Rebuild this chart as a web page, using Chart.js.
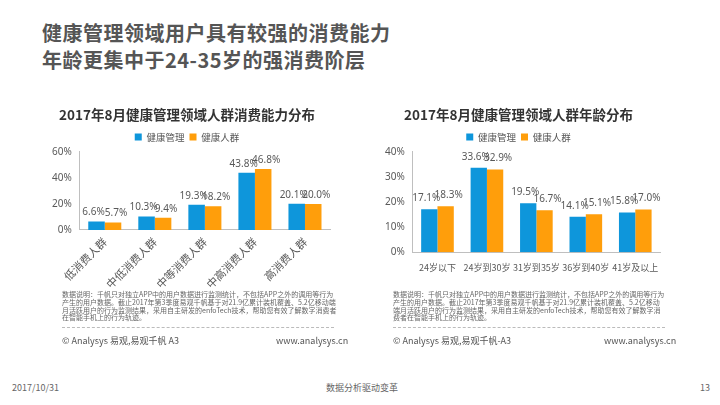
<!DOCTYPE html>
<html><head><meta charset="utf-8">
<script src="https://cdn.jsdelivr.net/npm/chart.js@4"></script>
<style>
html,body{margin:0;padding:0;background:#fff;}
body{width:720px;height:405px;position:relative;overflow:hidden;font-family:"Noto Sans CJK SC","Noto Sans",sans-serif;}
.abs{position:absolute;white-space:nowrap;}
.h1{left:42px;font-size:20px;font-weight:bold;color:#555;letter-spacing:0.5px;}
.note{font-size:7px;line-height:7.8px;color:#666;white-space:normal;}
.foot{font-size:9px;color:#555;}
.dash{position:absolute;height:0;border-top:1px dashed #bbb;}
</style></head><body>
<div class="abs h1" style="top:18px;">健康管理领域用户具有较强的消费能力</div>
<div class="abs h1" style="top:45px;">年龄更集中于24-35岁的强消费阶层</div>

<div class="abs" style="left:32px;top:101px;width:320px;height:195px;"><canvas id="c1"></canvas></div>
<div class="abs" style="left:372px;top:101px;width:310px;height:182px;"><canvas id="c2"></canvas></div>

<div class="abs note" style="left:62px;top:291px;width:277px;">数据说明：千帆只对独立APP中的用户数据进行监测统计，不包括APP之外的调用等行为产生的用户数据。截止2017年第3季度易观千帆基于对21.9亿累计装机覆盖、5.2亿移动端月活跃用户的行为监测结果，采用自主研发的enfoTech技术，帮助您有效了解数字消费者在智能手机上的行为轨迹。</div>
<div class="dash" style="left:62px;top:327px;width:272px;"></div>
<div class="abs foot" style="left:62px;top:334px;">© Analysys 易观,易观千帆 A3</div>
<div class="abs foot" style="left:276px;top:334px;">www.analysys.cn</div>

<div class="abs note" style="left:393px;top:291px;width:272px;">数据说明：千帆只对独立APP中的用户数据进行监测统计，不包括APP之外的调用等行为产生的用户数据。截止2017年第3季度易观千帆基于对21.9亿累计装机覆盖、5.2亿移动端月活跃用户的行为监测结果，采用自主研发的enfoTech技术，帮助您有效了解数字消费者在智能手机上的行为轨迹。</div>
<div class="dash" style="left:393px;top:327px;width:272px;"></div>
<div class="abs foot" style="left:393px;top:334px;">© Analysys 易观,易观千帆-A3</div>
<div class="abs foot" style="left:604px;top:334px;">www.analysys.cn</div>

<div class="abs" style="left:12px;top:381px;font-size:9px;color:#666;">2017/10/31</div>
<div class="abs" style="left:326px;top:381px;font-size:9px;color:#666;">数据分析驱动变革</div>
<div class="abs" style="left:700px;top:381px;font-size:9px;color:#666;">13</div>

<script>
const seriesNames = ["健康管理", "健康人群"];
const consumeCategories = ["低消费人群", "中低消费人群", "中等消费人群", "中高消费人群", "高消费人群"];
const consumeMgmt = [6.6, 10.3, 19.3, 43.8, 20.1];
const consumeHealthy = [5.7, 9.4, 18.2, 46.8, 20.0];
const ageCategories = ["24岁以下", "24岁到30岁", "31岁到35岁", "36岁到40岁", "41岁及以上"];
const ageMgmt = [17.1, 33.6, 19.5, 14.1, 15.8];
const ageHealthy = [18.3, 32.9, 16.7, 15.1, 17.0];
const colors = ["#0E96DB", "#FF9E0B"];

function labelPlugin(offset) {
  return {
    id: 'vlabels',
    afterDatasetsDraw(chart) {
      const ctx = chart.ctx;
      ctx.save();
      ctx.font = '10px "Noto Sans", sans-serif';
      ctx.fillStyle = '#595959';
      ctx.textAlign = 'center';
      ctx.textBaseline = 'bottom';
      chart.data.datasets.forEach((ds, i) => {
        const dx = i === 0 ? -3 : 3;
        chart.getDatasetMeta(i).data.forEach((el, j) => {
          ctx.fillText(ds.data[j].toFixed(1) + '%', el.x + dx, el.y - offset);
        });
      });
      ctx.restore();
    }
  };
}

function makeChart(id, title, cats, a, b, max, step, rotate, pad, xFont, xPad, offset) {
  return new Chart(document.getElementById(id), {
    type: 'bar',
    data: {
      labels: cats,
      datasets: [
        {label: seriesNames[0], data: a, backgroundColor: colors[0]},
        {label: seriesNames[1], data: b, backgroundColor: colors[1]}
      ]
    },
    options: {
      responsive: true, maintainAspectRatio: false, animation: false,
      devicePixelRatio: 1,
      layout: {padding: pad},
      datasets: {bar: {barPercentage: 1, categoryPercentage: 0.66}},
      plugins: {
        title: {display: true, text: title, color: '#333', font: {size: 13.5, weight: 'bold', family: '"Noto Sans CJK SC", sans-serif'}, padding: {top: 6, bottom: 4}},
        legend: {display: true, labels: {boxWidth: 7, boxHeight: 7, color: '#555', font: {size: 9.5, family: '"Noto Sans CJK SC", sans-serif'}, padding: 5}},
        tooltip: {enabled: false}
      },
      scales: {
        x: {
          grid: {display: false, drawTicks: false},
          border: {color: '#bfbfbf'},
          ticks: {color: '#595959', font: {size: xFont, family: '"Noto Sans CJK SC", sans-serif'}, maxRotation: rotate, minRotation: rotate, padding: xPad, autoSkip: false}
        },
        y: {
          min: 0, max: max,
          grid: {display: false, drawTicks: false},
          border: {color: '#bfbfbf'},
          ticks: {stepSize: step, color: '#595959', font: {size: 10, family: '"Noto Sans", sans-serif'}, padding: 8, callback: v => v + '%'}
        }
      }
    },
    plugins: [labelPlugin(offset)]
  });
}
makeChart('c1', '2017年8月健康管理领域人群消费能力分布', consumeCategories, consumeMgmt, consumeHealthy, 60, 20, 45, {left: 12, right: 22, top: 0, bottom: 0}, 11, 5, 4);
makeChart('c2', '2017年8月健康管理领域人群年龄分布', ageCategories, ageMgmt, ageHealthy, 40, 5, 0, {left: 5, right: 22, top: 0, bottom: 0}, 9, 10, 6);
</script>
</body></html>
